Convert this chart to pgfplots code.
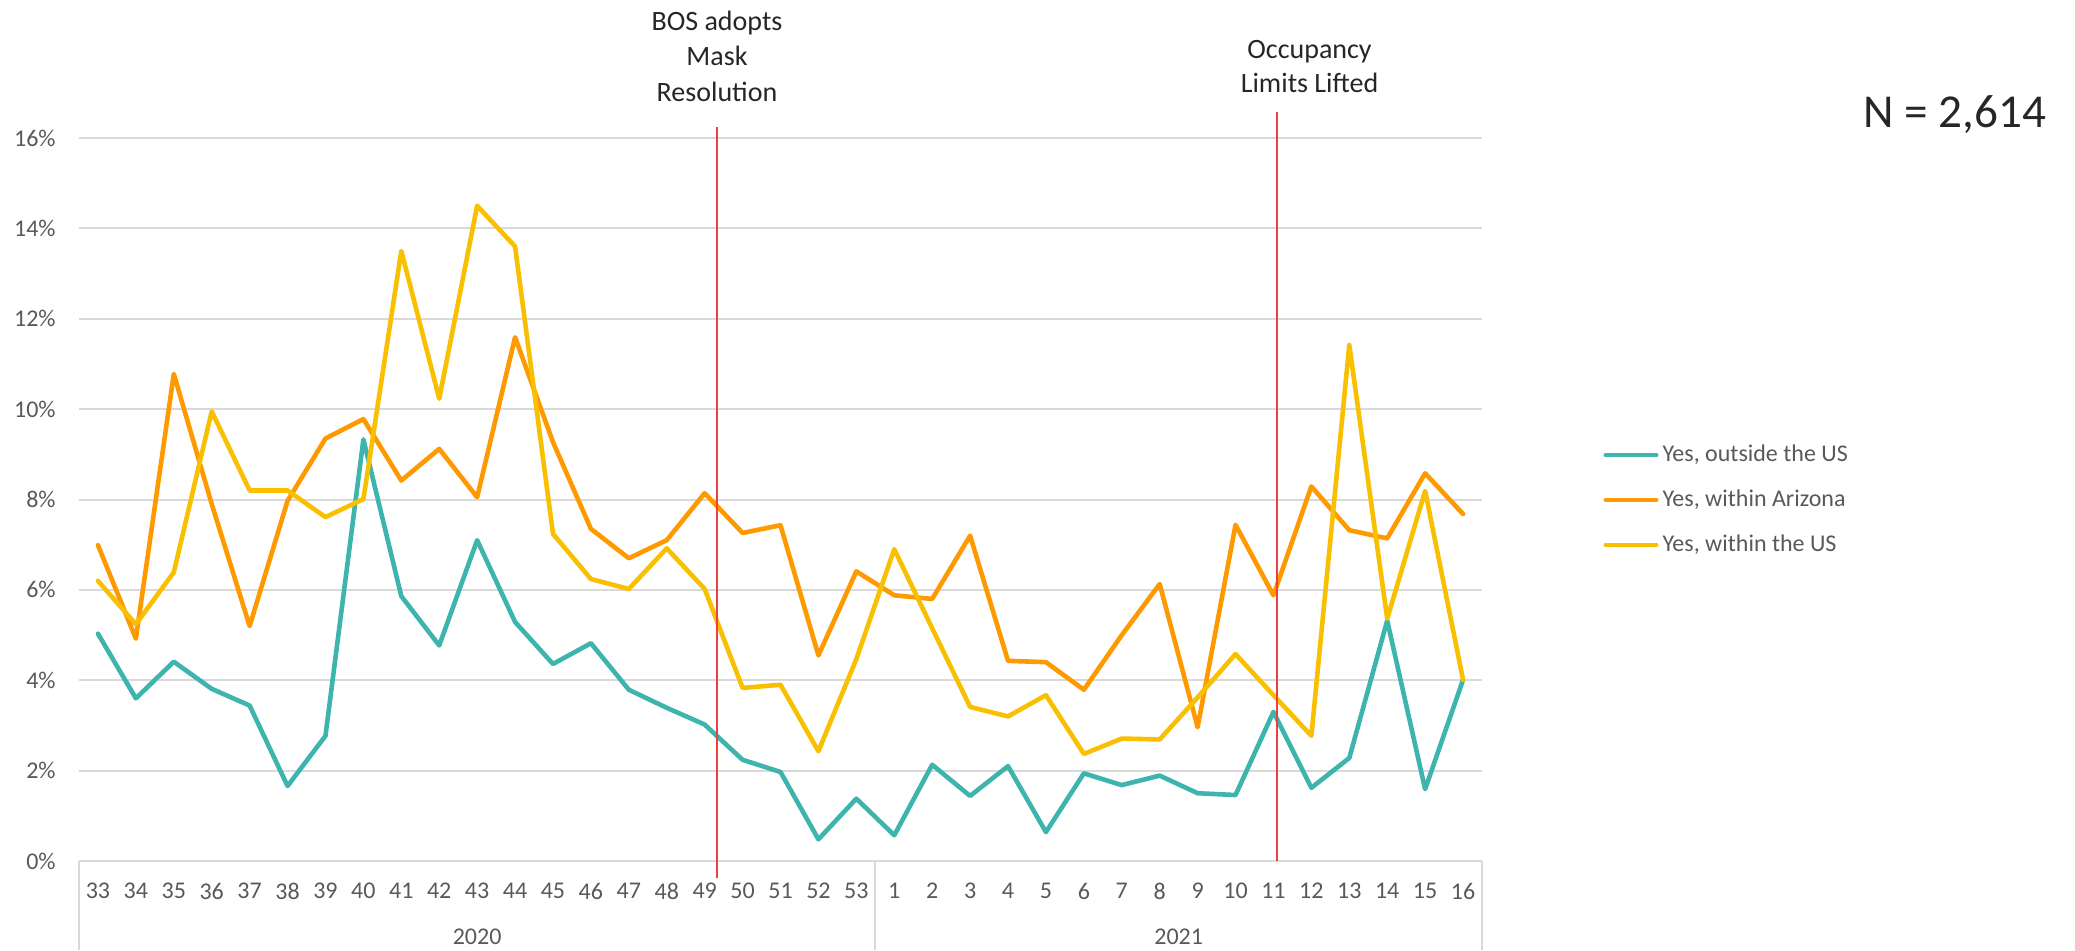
\documentclass[border=0pt]{standalone}
\usepackage{fontspec}
\setmainfont{Carlito}
\usepackage{pgfplots}
\pgfplotsset{compat=1.18}
\definecolor{cteal}{RGB}{62,180,174}
\definecolor{corange}{RGB}{255,153,0}
\definecolor{cyellow}{RGB}{248,192,0}
\definecolor{cgrid}{RGB}{217,217,217}
\definecolor{ctext}{RGB}{89,89,89}
\definecolor{cred}{RGB}{236,64,64}
\definecolor{cdark}{RGB}{38,38,38}
\begin{document}
\begin{tikzpicture}
\useasboundingbox (0,0) rectangle (1037.5pt,475pt);
\begin{axis}[
  at={(39.5pt,44.5pt)}, anchor=south west,
  scale only axis, width=701.5pt, height=361.5pt,
  xmin=-0.5, xmax=36.5, ymin=0, ymax=16,
  clip=false,
  axis line style={draw=none},
  major tick length=0pt,
  tick style={draw=none},
  ymajorgrids, major grid style={cgrid, line width=1pt},
  ytick={0,2,4,6,8,10,12,14,16},
  yticklabels={0\%,2\%,4\%,6\%,8\%,10\%,12\%,14\%,16\%},
  xtick={0,1,2,3,4,5,6,7,8,9,10,11,12,13,14,15,16,17,18,19,20,21,22,23,24,25,26,27,28,29,30,31,32,33,34,35,36},
  xticklabels={33,34,35,36,37,38,39,40,41,42,43,44,45,46,47,48,49,50,51,52,53,1,2,3,4,5,6,7,8,9,10,11,12,13,14,15,16},
  yticklabel style={font=\fontsize{12}{14}\selectfont, text=ctext, anchor=east, inner sep=0pt, xshift=-11.5pt},
  xticklabel style={font=\fontsize{12}{14}\selectfont, text=ctext, anchor=center, inner sep=0pt, yshift=-15pt},
  legend style={at={(1.0863,0.4993)}, anchor=west, draw=none, fill=none, inner sep=0pt,
    row sep=11.5pt, column sep=2pt, font=\fontsize{12}{14}\selectfont,
    nodes={inner sep=0pt, text height=8.5pt, text depth=2.5pt, text=ctext}},
  legend cell align=left,
  legend image code/.code={\draw[#1, line width=2.4pt, line cap=round] (1.2pt,0pt) -- (26.3pt,0pt);},
]
\addplot[cteal, line width=2.3pt, line join=round, line cap=round, mark=none] coordinates {
(0,5.03) (1,3.60) (2,4.41) (3,3.81) (4,3.44) (5,1.66) (6,2.77) (7,9.33) (8,5.86) (9,4.77)
(10,7.10) (11,5.29) (12,4.36) (13,4.82) (14,3.79) (15,3.39) (16,3.02) (17,2.24) (18,1.97) (19,0.48)
(20,1.38) (21,0.57) (22,2.13) (23,1.44) (24,2.10) (25,0.64) (26,1.94) (27,1.68) (28,1.89) (29,1.50)
(30,1.46) (31,3.30) (32,1.62) (33,2.28) (34,5.32) (35,1.59) (36,4.01)};
\addlegendentry{Yes, outside the US}
\addplot[corange, line width=2.3pt, line join=round, line cap=round, mark=none] coordinates {
(0,6.99) (1,4.92) (2,10.78) (3,7.90) (4,5.20) (5,7.97) (6,9.35) (7,9.78) (8,8.42) (9,9.12)
(10,8.05) (11,11.59) (12,9.27) (13,7.35) (14,6.70) (15,7.10) (16,8.14) (17,7.26) (18,7.43) (19,4.55)
(20,6.41) (21,5.88) (22,5.80) (23,7.20) (24,4.43) (25,4.40) (26,3.79) (27,5.00) (28,6.13) (29,2.96)
(30,7.44) (31,5.88) (32,8.29) (33,7.32) (34,7.14) (35,8.58) (36,7.68)};
\addlegendentry{Yes, within Arizona}
\addplot[cyellow, line width=2.3pt, line join=round, line cap=round, mark=none] coordinates {
(0,6.20) (1,5.24) (2,6.39) (3,9.95) (4,8.20) (5,8.20) (6,7.61) (7,8.01) (8,13.50) (9,10.23)
(10,14.50) (11,13.60) (12,7.24) (13,6.24) (14,6.02) (15,6.92) (16,6.02) (17,3.83) (18,3.90) (19,2.43)
(20,4.47) (21,6.90) (22,5.15) (23,3.41) (24,3.20) (25,3.67) (26,2.37) (27,2.71) (28,2.69) (29,3.62)
(30,4.58) (31,3.67) (32,2.77) (33,11.42) (34,5.36) (35,8.19) (36,4.01)};
\addlegendentry{Yes, within the US}
% separators of the category axis
\draw[cgrid, line width=1pt] (axis cs:-0.5,0) -- (axis cs:-0.5,-1.97);
\draw[cgrid, line width=1pt] (axis cs:20.5,0) -- (axis cs:20.5,-1.97);
\draw[cgrid, line width=1pt] (axis cs:36.5,0) -- (axis cs:36.5,-1.97);
\node[font=\fontsize{12}{14}\selectfont, text=ctext, inner sep=0pt] at (axis cs:10,-1.68) {2020};
\node[font=\fontsize{12}{14}\selectfont, text=ctext, inner sep=0pt] at (axis cs:28.5,-1.68) {2021};
% event lines
\draw[cred, line width=1pt] (axis cs:16.32,-0.376) -- (axis cs:16.32,16.24);
\draw[cred, line width=1pt] (axis cs:31.09,0) -- (axis cs:31.09,16.58);
\end{axis}
\begin{scope}[every node/.style={font=\fontsize{14}{17}\selectfont, text=cdark, inner sep=0pt, anchor=base}]
\node at (358.5pt,459.5pt) {BOS adopts};
\node at (358.5pt,442.2pt) {Mask};
\node at (358.5pt,424.2pt) {Resolution};
\node at (654.75pt,445.8pt) {Occupancy};
\node at (654.75pt,428.7pt) {Limits Lifted};
\end{scope}
\node[anchor=base west, font=\fontsize{23.6}{28}\selectfont, text=cdark, inner sep=0pt] at (931.5pt,411.3pt) {N = 2,614};
\end{tikzpicture}
\end{document}
